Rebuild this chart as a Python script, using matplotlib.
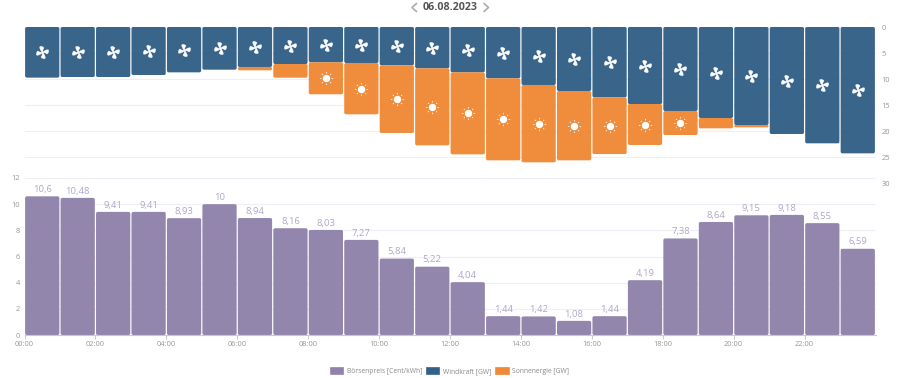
import numpy as np
import matplotlib
matplotlib.use('Agg')
import matplotlib.pyplot as plt
from matplotlib.lines import Line2D
from matplotlib.patches import FancyBboxPatch, Patch
from matplotlib.path import Path
from matplotlib.transforms import Affine2D

plt.rcParams['font.family'] = ['Open Sans', 'DejaVu Sans']

# values
hours = list(range(24))
tick_hours = [0, 2, 4, 6, 8, 10, 12, 14, 16, 18, 20, 22]
tick_labels = ['00:00', '02:00', '04:00', '06:00', '08:00', '10:00',
               '12:00', '14:00', '16:00', '18:00', '20:00', '22:00']
price = [10.6, 10.48, 9.41, 9.41, 8.93, 10, 8.94, 8.16, 8.03, 7.27, 5.84, 5.22,
         4.04, 1.44, 1.42, 1.08, 1.44, 4.19, 7.38, 8.64, 9.15, 9.18, 8.55, 6.59]
wind = [9.74, 9.62, 9.62, 9.23, 8.72, 8.21, 7.69, 7.12, 6.79, 6.92, 7.37, 7.95,
        8.72, 9.87, 11.15, 12.31, 13.53, 14.81, 16.15, 17.5, 18.85, 20.58, 22.37, 24.3]
solar = [0, 0, 0, 0, 0, 0, 0.64, 2.63, 6.15, 9.87, 13.01, 14.81,
         15.77, 15.77, 14.87, 13.33, 10.9, 7.88, 4.62, 1.99, 0.45, 0, 0, 0]

PURPLE = '#9082ab'
BLUE = '#336087'
ORANGE = '#ef8935'
GRID = '#efeef8'
GRAY = '#969696'
LEFT, RIGHT = 24.5, 875.5
W, H = 900, 378


def make_axes(top, bottom):
    ax = fig.add_axes([LEFT / W, 1 - bottom / H, (RIGHT - LEFT) / W, (bottom - top) / H])
    ax.patch.set_alpha(0)
    ax.set_xlim(0, 24)
    for s in ax.spines.values():
        s.set_visible(False)
    ax.grid(axis='y', color=GRID, lw=0.8)
    ax.set_axisbelow(True)
    return ax


def rounded_bar(ax, x, bottom, height, color, aspect):
    # bar with small round corners, aspect = y units per x unit on screen
    r = min(0.05, height / 2 / aspect)
    p = FancyBboxPatch((x + 0.017, bottom), 0.966, height,
                       boxstyle='round,pad=0,rounding_size=%f' % r,
                       mutation_aspect=aspect, fc=color, ec='none', alpha=0.97)
    ax.add_patch(p)


def fan_marker():
    # four curved blades, thin at the hub and wide at the tip
    verts, codes = [], []
    blade = [(0, 0), (-0.28, 0.5), (-0.1, 1.0), (0.38, 1.05), (0.46, 0.6), (0.15, 0.5), (0, 0)]
    cc = [Path.MOVETO, Path.CURVE3, Path.CURVE3, Path.CURVE3, Path.CURVE3, Path.CURVE3, Path.CURVE3]
    for k in range(4):
        a = np.deg2rad(90 * k)
        c, s = np.cos(a), np.sin(a)
        verts += [(c * x - s * y, s * x + c * y) for x, y in blade]
        codes += cc
    return Path(verts, codes)


def sun_marker():
    # disc and eight small rays
    circle = Path.unit_circle()
    verts = list(circle.vertices * 0.56)
    codes = list(circle.codes)
    for k in range(8):
        a = np.deg2rad(45 * k)
        c, s = np.cos(a), np.sin(a)
        n = np.array([-s, c]) * 0.06
        mid = np.array([c, s])
        verts += [mid * 0.78 - n, mid * 0.78 + n, mid * 1.0 + n, mid * 1.0 - n, mid * 0.78 - n]
        codes += [Path.MOVETO, Path.LINETO, Path.LINETO, Path.LINETO, Path.CLOSEPOLY]
    return Path(verts, codes)


def chevron(xs, ys):
    # header arrows, given in pixels of the picture
    fig.add_artist(Line2D([x / W for x in xs], [1 - y / H for y in ys], color='#aaaaaa',
                          lw=1.2, solid_capstyle='round', solid_joinstyle='round'))


fig = plt.figure(figsize=(9, 3.78), dpi=100)

# lower chart: price
ax_b = make_axes(178, 335)
ax_b.set_ylim(0, 12)
ax_b.set_yticks(range(0, 13, 2))
for h, v in zip(hours, price):
    rounded_bar(ax_b, h, 0, v, PURPLE, 35.46 / 13.08)
    ax_b.text(h + 0.5, v + 0.18, str(v).replace('.', ','), ha='center', va='bottom',
              fontsize=6.8, color='#b0a7c9')
ax_b.set_xticks(tick_hours)
ax_b.set_xticklabels(tick_labels)
ax_b.spines['bottom'].set_visible(True)
ax_b.spines['bottom'].set_color('#c9c6d6')
ax_b.tick_params(axis='x', length=3, width=0.7, color='#c9c6d6', labelsize=5.4,
                 labelcolor=GRAY, pad=1.5)
ax_b.tick_params(axis='y', length=0, labelsize=5.4, labelcolor=GRAY, pad=3)

# upper chart: wind and solar, hanging from the top
ax_t = make_axes(27, 183)
ax_t.set_ylim(30, 0)
ax_t.set_yticks(range(0, 31, 5))
ax_t.set_xticks([])
ax_t.yaxis.tick_right()
ax_t.tick_params(axis='y', length=0, labelsize=5.4, labelcolor=GRAY, pad=4.2)
fan = fan_marker().transformed(Affine2D().rotate_deg(20))
sun = sun_marker()
for h, w, s in zip(hours, wind, solar):
    rounded_bar(ax_t, h, 0, w, BLUE, 35.46 / 5.2)
    if s > 0:
        rounded_bar(ax_t, h, w, s, ORANGE, 35.46 / 5.2)
    ax_t.plot(h + 0.5, w / 2, marker=fan, ms=10, color='white', mec='white', mew=0.4, ls='none')
    if s > 4:
        ax_t.plot(h + 0.5, w + s / 2, marker=sun, ms=9.5, color='white', mew=0, ls='none')

# date header
fig.text(450 / W, 1 - 7.5 / H, '06.08.2023', ha='center', va='center', fontsize=7.7,
         fontweight='bold', color='#555555')
chevron([416.5, 412, 416.5], [3.5, 7.5, 11.5])
chevron([484, 488.5, 484], [3.5, 7.5, 11.5])

# legend
handles = [Patch(fc=PURPLE, ec=PURPLE, lw=1.2, joinstyle='round', label='Börsenpreis [Cent/kWh]'),
           Patch(fc=BLUE, ec=BLUE, lw=1.2, joinstyle='round', label='Windkraft [GW]'),
           Patch(fc=ORANGE, ec=ORANGE, lw=1.2, joinstyle='round', label='Sonnenergie [GW]')]
fig.legend(handles=handles, ncol=3, loc='center', bbox_to_anchor=(450 / W, 1 - 371.5 / H),
           frameon=False, fontsize=4.9, labelcolor='#888888', handlelength=1.8, handleheight=1.0,
           handletextpad=0.55, columnspacing=0.75, borderpad=0, borderaxespad=0)

fig.savefig('out.png', dpi=100)
